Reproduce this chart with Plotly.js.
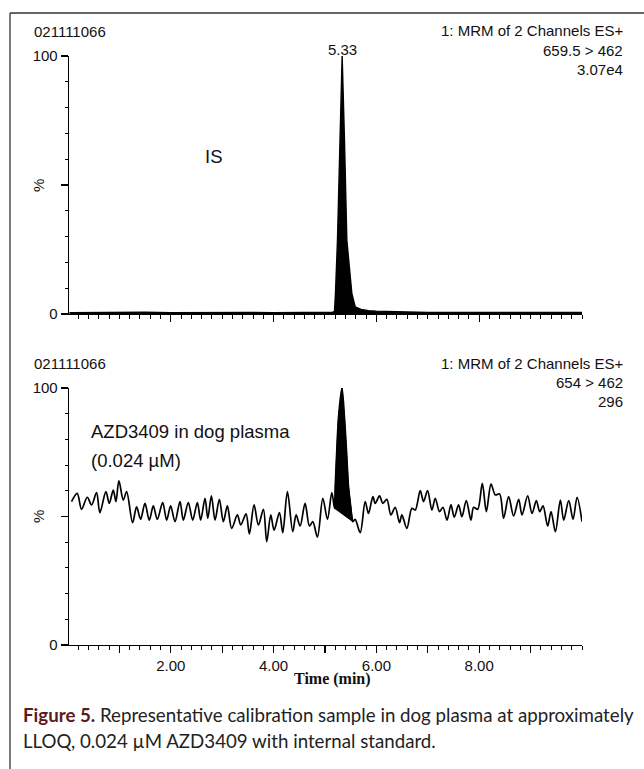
<!DOCTYPE html>
<html><head><meta charset="utf-8">
<script src="https://cdn.plot.ly/plotly-3.0.1.min.js"></script>
<style>html,body{margin:0;padding:0;background:#fff;}#chart{width:644px;height:769px;}</style>
</head><body><div id="chart"></div>
<script>
// ---- Top panel (IS, 659.5 > 462) ----
const isTime = [0.03,0.5,1.0,1.5,2.0,2.5,3.0,3.5,4.0,4.5,5.0,5.15,5.185,5.204,5.243,5.295,5.334,5.379,5.425,5.522,5.587,5.7,5.85,6.0,6.3,6.6,7.0,7.5,8.0,8.5,9.0,9.5,10.0];
const isPct  = [0.5,0.6,0.5,0.7,0.5,0.6,0.5,0.6,0.5,0.6,0.6,0.7,1.0,8,28.7,67.4,100,67.4,28.7,8,2.8,1.8,1.3,1.1,0.9,0.7,0.6,0.6,0.7,0.6,0.6,0.7,0.6];

// ---- Bottom panel (AZD3409, 654 > 462) ----
const preTime = [0.069,0.180,0.264,0.375,0.459,0.556,0.621,0.738,0.803,0.881,0.933,0.991,1.076,1.141,1.257,1.335,1.413,1.498,1.582,1.660,1.738,1.842,1.920,1.997,2.082,2.179,2.244,2.341,2.426,2.517,2.582,2.666,2.72,2.79,2.861,2.945,3.023,3.101,3.185,3.296,3.361,3.464,3.529,3.620,3.705,3.802,3.867,3.945,4.010,4.114,4.179,4.269,4.373,4.438,4.516,4.613,4.698,4.763,4.853,4.958,5.048,5.133];
const prePct  = [55.8,59.0,52.8,57.5,54.5,59.3,51.5,59.7,55.1,60.3,55.8,63.9,56.4,59.7,47.6,53.8,48.9,55.1,48.6,54.1,48.9,55.4,48.6,54.1,48.0,55.8,48.6,55.4,48.6,55.4,48.6,57.1,49.3,58.0,48.6,56.7,48.0,54.1,45.4,50.6,46.7,51.0,43.2,54.5,46.7,52.8,40.2,50.6,44.7,51.5,43.7,59.7,44.1,50.6,46.3,55.1,46.3,48.0,42.0,57.1,48.9,59.3];
const peakTime = [5.185,5.200,5.235,5.265,5.330,5.380,5.420,5.457,5.500,5.542];
const peakPct  = [53.2,62,78,89,100,88,75,61.6,54,48.0];
const postTime = [5.587,5.685,5.782,5.846,5.932,5.977,6.061,6.126,6.204,6.282,6.366,6.450,6.496,6.593,6.691,6.756,6.853,6.918,6.995,7.080,7.145,7.229,7.295,7.373,7.451,7.515,7.599,7.664,7.749,7.840,7.892,7.970,8.061,8.139,8.230,8.314,8.397,8.475,8.573,8.670,8.768,8.833,8.943,9.028,9.112,9.177,9.242,9.332,9.398,9.482,9.579,9.644,9.742,9.826,9.904,10.0];
const postPct  = [48.9,43.7,55.8,51.2,57.7,55.1,58.0,55.1,56.7,50.6,53.6,47.6,50.6,45.4,53.2,52.5,60.1,55.8,60.1,52.5,57.1,51.9,53.6,48.6,54.5,49.7,54.5,49.9,56.2,48.6,53.6,52.8,62.9,51.9,62.6,58.4,58.8,49.3,57.7,50.2,56.7,50.6,58.0,51.2,56.2,51.9,54.1,46.3,51.9,44.1,56.4,48.6,56.2,48.9,57.5,48.0];

const xTickVals = [1,2,3,4,5,6,7,8,9];
const xTickText = ['','2.00','','4.00','','6.00','','8.00',''];
const yTickVals = [0,50,100];
const yTickText = ['0','','100'];

const W = 644, H = 769, L = 69, R = 582;
const PX = x => (x - L) / (R - L);
const PY = y => 1 - y / H;

const sans = 'Liberation Sans, Arial, sans-serif';
const black = '#000';

const bottomTime = preTime.concat(peakTime, postTime);
const bottomPct = prePct.concat(peakPct, postPct);

const traces = [
  {x: isTime, y: isPct, xaxis:'x', yaxis:'y', mode:'lines', fill:'tozeroy', fillcolor:black,
   line:{color:black, width:1.4}, hoverinfo:'skip'},
  {x: peakTime.concat([peakTime[0]]), y: peakPct.concat([peakPct[0]]), xaxis:'x2', yaxis:'y2',
   mode:'lines', fill:'toself', fillcolor:black, line:{color:black, width:1}, hoverinfo:'skip'},
  {x: bottomTime, y: bottomPct, xaxis:'x2', yaxis:'y2', mode:'lines',
   line:{color:black, width:1.7, shape:'spline', smoothing:0.9}, hoverinfo:'skip'}
];

function xAxis(labels, anchor){
  return {range:[0.02,10.0], anchor:anchor, showgrid:false, zeroline:false, showline:true,
    linecolor:black, linewidth:1.3, ticks:'outside', ticklen:7, tickwidth:1.2, tickcolor:black,
    tickmode:'array', tickvals:xTickVals, ticktext:xTickText, showticklabels:labels,
    tickfont:{family:sans, size:15, color:'#111'},
    minor:{tickmode:'linear', tick0:0, dtick:0.2, ticks:'outside', ticklen:4, tickwidth:1, tickcolor:black, showgrid:false}};
}
function yAxis(domain, anchor){
  return {range:[0,100], domain:domain, anchor:anchor, showgrid:false, zeroline:false, showline:true,
    linecolor:black, linewidth:1.3, ticks:'outside', ticklen:7, tickwidth:1.2, tickcolor:black,
    tickmode:'array', tickvals:yTickVals, ticktext:yTickText,
    tickfont:{family:sans, size:15, color:'#111'},
    minor:{tickmode:'linear', tick0:0, dtick:10, ticks:'outside', ticklen:3, tickwidth:1, tickcolor:black, showgrid:false}};
}

function ann(text, x, y, opts){
  return Object.assign({text:text, x:PX(x), y:PY(y), xref:'paper', yref:'paper', showarrow:false,
    xanchor:'left', yanchor:'middle', font:{family:sans, size:15, color:'#111'}}, opts||{});
}

const big = {family:sans, size:18.5, color:'#111'};
const capFont = {family:'Lato, sans-serif', size:18.7, color:'#222'};
const annotations = [
  ann('021111066', 32, 32),
  ann('1: MRM of 2 Channels ES+', 625, 31, {xanchor:'right'}),
  ann('659.5 &gt; 462', 625, 50, {xanchor:'right'}),
  ann('3.07e4', 625, 69, {xanchor:'right'}),
  ann('5.33', 342, 49, {xanchor:'center'}),
  ann('IS', 213, 157, {xanchor:'center', font:big}),
  ann('%', 38, 186, {xanchor:'center', textangle:-90}),
  ann('021111066', 32, 364),
  ann('1: MRM of 2 Channels ES+', 625, 363, {xanchor:'right'}),
  ann('654 &gt; 462', 625, 382, {xanchor:'right'}),
  ann('296', 625, 401, {xanchor:'right'}),
  ann('AZD3409 in dog plasma', 89, 431, {font:big}),
  ann('(0.024 µM)', 89, 460, {font:big}),
  ann('%', 38, 517, {xanchor:'center', textangle:-90}),
  ann('<b>Time (min)</b>', 332, 679, {xanchor:'center', font:{family:'Liberation Serif, Times New Roman, serif', size:16, color:'#111'}}),
  ann('<b><span style="color:#5e1a1a">Figure 5.</span></b> Representative calibration sample in dog plasma at approximately', 21, 715, {font:capFont}),
  ann('LLOQ, 0.024 µM AZD3409 with internal standard.', 21, 741, {font:capFont})
];

const shapes = [
  {type:'line', xref:'paper', yref:'paper', x0:PX(10), x1:PX(644), y0:PY(13), y1:PY(13), line:{color:'#333', width:1.3}},
  {type:'line', xref:'paper', yref:'paper', x0:PX(10), x1:PX(10), y0:PY(13), y1:PY(769), line:{color:'#333', width:1.3}}
];

const layout = {
  width:W, height:H, margin:{l:L, r:W-R, t:0, b:0}, paper_bgcolor:'#fff', plot_bgcolor:'#fff',
  showlegend:false,
  xaxis: xAxis(false, 'y'),
  yaxis: yAxis([PY(314), PY(56)], 'x'),
  xaxis2: xAxis(true, 'y2'),
  yaxis2: yAxis([PY(645), PY(388)], 'x2'),
  annotations: annotations,
  shapes: shapes
};

Plotly.newPlot('chart', traces, layout, {staticPlot:true});
</script>
</body></html>
